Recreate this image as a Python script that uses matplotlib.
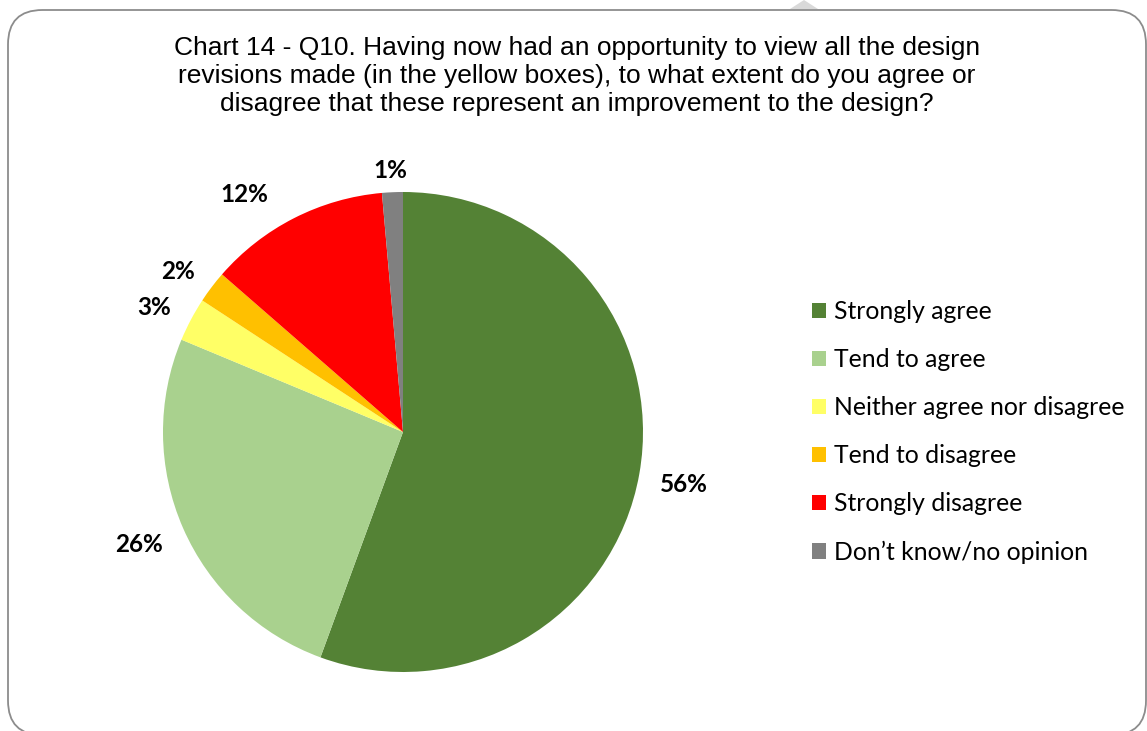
import matplotlib.pyplot as plt
from matplotlib.patches import FancyBboxPatch, Polygon

# Q10 responses (share of respondents, %)
categories = ['Strongly agree', 'Tend to agree', 'Neither agree nor disagree',
              'Tend to disagree', 'Strongly disagree', 'Don\u2019t know/no opinion']
shares = [55.6, 25.7, 2.95, 2.17, 12.2, 1.4]
slice_colors = ['#548235', '#A9D18E', '#FFFF66', '#FFC000', '#FF0000', '#808080']

title = ('Chart 14 - Q10. Having now had an opportunity to view all the design\n'
         'revisions made (in the yellow boxes), to what extent do you agree or\n'
         'disagree that these represent an improvement to the design?')

W, H = 1147, 731
fig = plt.figure(figsize=(W / 100, H / 100), dpi=100)

# outer rounded frame
frame = FancyBboxPatch((8 / W, 1 - 735 / H), (1138 / W), (725 / H),
                       boxstyle='round,pad=0,rounding_size=0.03',
                       transform=fig.transFigure, fill=False,
                       edgecolor='#8c8c8c', linewidth=1.3, mutation_aspect=W / H)
fig.patches.append(frame)
# little resize tab at the top
fig.patches.append(Polygon([(790 / W, 1 - 9 / H), (818 / W, 1 - 9 / H), (804 / W, 1.0)],
                           closed=True, transform=fig.transFigure,
                           facecolor='#d9d9d9', edgecolor='none'))

fig.text(577 / W, 1 - 76 / H, title, ha='center', va='center',
         fontsize=19, family='Liberation Sans', linespacing=1.2)

# pie axes: center (403, 432) px, radius 240 px
cx, cy, r = 403, 432, 240
span = 1.25
side = r * span * 2
ax = fig.add_axes([(cx - side / 2) / W, (H - cy - side / 2) / H, side / W, side / H])
wedges, texts, autotexts = ax.pie(
    shares, colors=slice_colors, startangle=90, counterclock=False,
    autopct=lambda p: '%d%%' % round(p), pctdistance=1.19,
    wedgeprops=dict(linewidth=0),
    textprops=dict(fontsize=17.5, fontweight='bold', family='Lato'))
ax.set_xlim(-span, span)
ax.set_ylim(-span, span)
ax.set_aspect('equal')
ax.axis('off')

# nudge crowded labels like the original
nudges = {0: (0.0, -0.01), 1: (-0.01, 0.01), 2: (0.015, -0.04),
          3: (0.01, -0.05), 4: (-0.12, -0.07), 5: (0.0, -0.1)}
for i, (dx, dy) in nudges.items():
    x, y = autotexts[i].get_position()
    autotexts[i].set_position((x + dx, y + dy))

fig.legend(wedges, categories, loc='center left',
           bbox_to_anchor=(812 / W, 1 - 432 / H), frameon=False,
           prop=dict(family='Lato', size=17.8), labelspacing=1.01,
           handlelength=0.58, handleheight=0.58, handletextpad=0.33,
           borderaxespad=0, borderpad=0)

fig.savefig('out.png', dpi=100, facecolor='white')
